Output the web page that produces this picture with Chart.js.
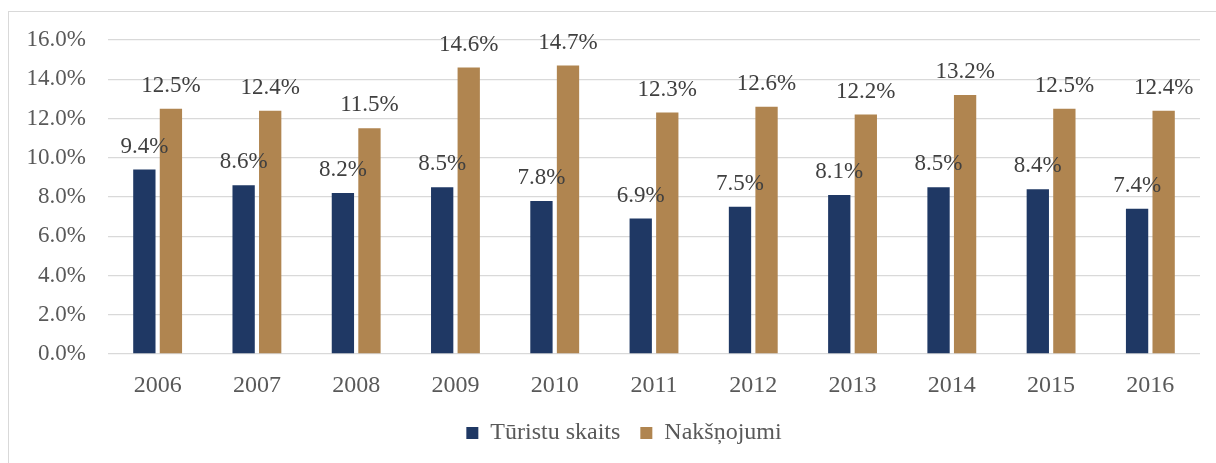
<!DOCTYPE html>
<html>
<head>
<meta charset="utf-8">
<script src="https://cdn.jsdelivr.net/npm/chart.js@4"></script>
<style>
  html, body { margin: 0; padding: 0; background: #ffffff; overflow: hidden; }
  #frame { position: absolute; left: 8px; top: 11px; width: 1230px; height: 480px; border: 1px solid #D9D9D9; box-sizing: border-box; }
  #wrap { position: absolute; left: 0; top: 0; width: 1216px; height: 463px; }
</style>
</head>
<body>
<div id="frame"></div>
<div id="wrap"><canvas id="c" width="1216" height="463"></canvas></div>
<script>
const categories = ['2006', '2007', '2008', '2009', '2010', '2011', '2012', '2013', '2014', '2015', '2016'];
const turistuSkaits = [9.4, 8.6, 8.2, 8.5, 7.8, 6.9, 7.5, 8.1, 8.5, 8.4, 7.4];
const naksnojumi = [12.5, 12.4, 11.5, 14.6, 14.7, 12.3, 12.6, 12.2, 13.2, 12.5, 12.4];
const seriesNames = ['Tūristu skaits', 'Nakšņojumi'];
const yTicks = [0, 2, 4, 6, 8, 10, 12, 14, 16];

const FONT = "'Liberation Serif', 'Times New Roman', serif";
Chart.defaults.font.family = FONT;
Chart.defaults.font.size = 23;
Chart.defaults.color = '#595959';

const valueLabels = {
  id: 'valueLabels',
  afterDatasetsDraw(chart) {
    const ctx = chart.ctx;
    ctx.save();
    ctx.font = '23px ' + FONT;
    ctx.fillStyle = '#404040';
    ctx.textAlign = 'center';
    ctx.textBaseline = 'middle';
    chart.data.datasets.forEach((ds, i) => {
      const meta = chart.getDatasetMeta(i);
      meta.data.forEach((bar, j) => {
        ctx.fillText(ds.data[j].toFixed(1) + '%', bar.x, bar.y - 23);
      });
    });
    ctx.restore();
  }
};

const legendShift = {
  id: 'legendShift',
  afterLayout(chart) {
    if (chart.legend) { chart.legend.left += 38; }
  }
};

new Chart(document.getElementById('c'), {
  type: 'bar',
  data: {
    labels: categories,
    datasets: [
      { label: seriesNames[0], data: turistuSkaits, backgroundColor: '#1F3864', categoryPercentage: 0.535, barPercentage: 0.84 },
      { label: seriesNames[1], data: naksnojumi, backgroundColor: '#B08550', categoryPercentage: 0.535, barPercentage: 0.84 }
    ]
  },
  options: {
    responsive: false,
    animation: false,
    layout: { padding: { top: 40, right: 16, left: 10, bottom: 8 } },
    plugins: {
      legend: {
        position: 'bottom',
        labels: {
          font: { family: FONT, size: 24 },
          color: '#595959',
          boxWidth: 12,
          boxHeight: 12,
          padding: 20
        }
      },
      tooltip: { enabled: false }
    },
    scales: {
      x: {
        grid: { display: false },
        border: { display: false },
        afterFit(scale) { scale.height = 47; },
        ticks: { font: { family: FONT, size: 24 }, color: '#595959', padding: 9 }
      },
      y: {
        min: 0,
        max: 16,
        afterBuildTicks(scale) { scale.ticks = yTicks.map(v => ({ value: v })); },
        afterFit(scale) { scale.width = 98; },
        grid: { color: '#D9D9D9', lineWidth: 1.3, drawTicks: false },
        border: { display: false },
        ticks: {
          font: { family: FONT, size: 23 },
          color: '#595959',
          padding: 22,
          callback: v => v.toFixed(1) + '%'
        }
      }
    }
  },
  plugins: [valueLabels, legendShift]
});
</script>
</body>
</html>
